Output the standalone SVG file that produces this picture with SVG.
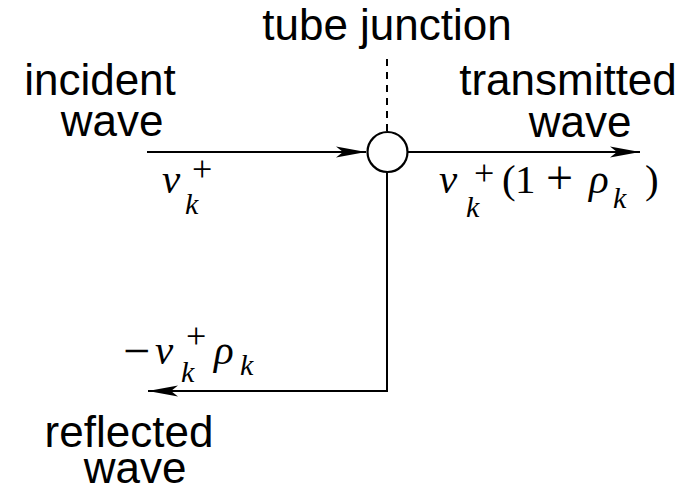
<svg xmlns="http://www.w3.org/2000/svg" width="691" height="487" viewBox="0 0 691 487">
<defs>
<style>
.lbl{font-family:"Liberation Sans",Arial,sans-serif;font-size:44px;fill:#000;text-anchor:middle}
.mi{font-family:"Liberation Serif","Times New Roman",serif;font-style:italic;fill:#000}
.mr{font-family:"Liberation Serif","Times New Roman",serif;fill:#000}
.big{font-size:41px}
.sm{font-size:30px}
.sup{font-size:36px}
.op{font-size:48px}
.ln{fill:none;stroke:#000;stroke-width:2}
</style>
<marker id="ah" viewBox="-30 -7 31 14" markerWidth="31" markerHeight="14" refX="0" refY="0" orient="auto" markerUnits="userSpaceOnUse">
<path d="M0,0 L-30,-5.5 L-23,0 L-30,5.5 Z" fill="#000"/>
</marker>
</defs>
<rect width="691" height="487" fill="#fff"/>
<g id="connectors">
<line class="ln" x1="147" y1="152" x2="366" y2="152" marker-end="url(#ah)"/>
<line class="ln" x1="408" y1="152" x2="640" y2="152" marker-end="url(#ah)"/>
<polyline class="ln" points="387,172 387,391 148,391" marker-end="url(#ah)"/>
<line class="ln" x1="387" y1="131" x2="387" y2="58" stroke-dasharray="7 6"/>
</g>
<g id="junction">
<circle cx="387.5" cy="152" r="20" fill="#fff" stroke="#000" stroke-width="2.2"/>
<text class="lbl" x="387" y="40">tube junction</text>
</g>
<g id="incident">
<text class="lbl" x="100" y="95">incident</text>
<text class="lbl" x="112" y="136">wave</text>
<text class="mi big" x="162" y="193">v</text>
<text class="mr sup" x="192" y="181">+</text>
<text class="mi sm" x="185" y="214">k</text>
</g>
<g id="transmitted">
<text class="lbl" x="568" y="95">transmitted</text>
<text class="lbl" x="580" y="137">wave</text>
<text class="mi big" x="439" y="193">v</text>
<text class="mr sup" x="474" y="185">+</text>
<text class="mi sm" x="466" y="217">k</text>
<text class="mr big" x="502" y="193">(</text>
<text class="mr big" x="515" y="193">1</text>
<text class="mr op" x="546" y="194">+</text>
<text class="mi big" x="589" y="193">ρ</text>
<text class="mi sm" x="613" y="208">k</text>
<text class="mr big" x="645" y="193">)</text>
</g>
<g id="reflected">
<text class="lbl" x="129" y="447">reflected</text>
<text class="lbl" x="135" y="483">wave</text>
<text class="mr op" x="123" y="367">−</text>
<text class="mi big" x="155" y="364">v</text>
<text class="mr sup" x="186" y="348">+</text>
<text class="mi sm" x="181" y="382">k</text>
<text class="mi big" x="214" y="364">ρ</text>
<text class="mi sm" x="240" y="375">k</text>
</g>
</svg>
